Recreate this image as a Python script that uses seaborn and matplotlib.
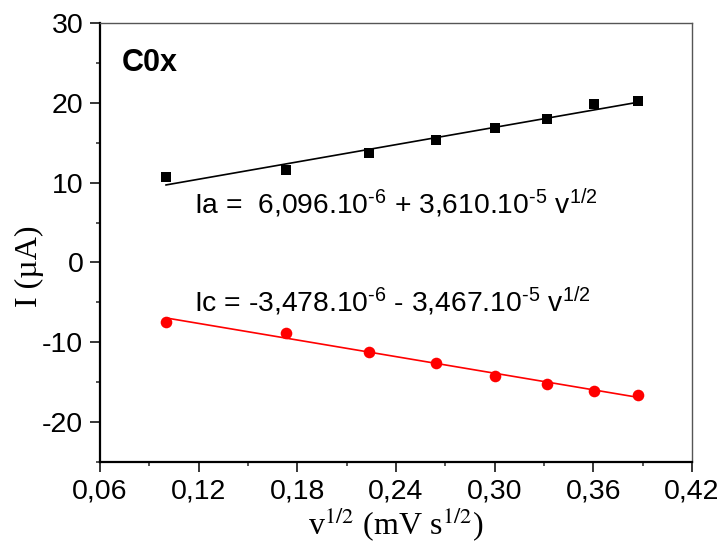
import numpy as np
import pandas as pd
import seaborn as sns
import matplotlib
matplotlib.use("Agg")
import matplotlib.pyplot as plt
from matplotlib.ticker import MultipleLocator, FuncFormatter

# ---- data ----
v_sqrt = [0.100, 0.173, 0.2236, 0.2646, 0.300, 0.3317, 0.3606, 0.3873]
i_anodic = [10.67, 11.63, 13.7, 15.3, 16.8, 18.0, 19.9, 20.2]
i_cathodic = [-7.4, -8.78, -11.17, -12.55, -14.18, -15.27, -16.06, -16.65]
fit_a = (36.10, 6.096)    # slope, intercept (µA)
fit_c = (-34.67, -3.478)
x_ticks = [0.06, 0.12, 0.18, 0.24, 0.30, 0.36, 0.42]
y_ticks = [-20, -10, 0, 10, 20, 30]

sns.set_theme(style="ticks")
plt.rcParams['font.family'] = ['Liberation Sans', 'DejaVu Sans']
plt.rcParams['text.color'] = 'black'
plt.rcParams['axes.labelcolor'] = 'black'
plt.rcParams['mathtext.fontset'] = 'custom'
plt.rcParams['mathtext.rm'] = 'Liberation Sans'
plt.rcParams['mathtext.it'] = 'Liberation Sans:italic'

df = pd.DataFrame({"v": v_sqrt, "Ia": i_anodic, "Ic": i_cathodic})

fig = plt.figure(figsize=(7.22, 5.47), dpi=100)
ax = fig.add_axes([100/722, 1-462/547, 592/722, 439/547])

xf = np.array([min(v_sqrt), max(v_sqrt)])
sns.lineplot(x=xf, y=np.polyval(fit_a, xf), color="black", lw=1.2, ax=ax)
sns.lineplot(x=xf, y=np.polyval(fit_c, xf), color="red", lw=1.2, ax=ax)
sns.scatterplot(data=df, x="v", y="Ia", marker="s", s=55, color="black",
                edgecolor="black", linewidth=0, ax=ax, zorder=3)
sns.scatterplot(data=df, x="v", y="Ic", marker="o", s=70, color="red",
                edgecolor="red", linewidth=0, ax=ax, zorder=3)

ax.set_xlim(0.06, 0.42)
ax.set_ylim(-25, 30)
ax.set_xticks(x_ticks)
ax.set_yticks(y_ticks)
ax.xaxis.set_minor_locator(MultipleLocator(0.03))
ax.yaxis.set_minor_locator(MultipleLocator(5))
ax.xaxis.set_major_formatter(FuncFormatter(lambda v, p: f"{v:.2f}".replace(".", ",")))
ax.yaxis.set_major_formatter(FuncFormatter(lambda v, p: f"{v:.0f}"))

ax.tick_params(axis="both", which="major", direction="out", length=7, width=1.1,
               labelsize=20.5, pad=5, colors="black", top=False, right=False)
ax.tick_params(axis="both", which="minor", direction="out", length=3, width=1.1,
               top=False, right=False)
for s in ["left", "bottom"]:
    ax.spines[s].set_linewidth(1.6)
    ax.spines[s].set_color("black")
for s in ["top", "right"]:
    ax.spines[s].set_linewidth(1.0)
    ax.spines[s].set_color("#555555")

ax.set_xlabel(r"v$^{\mathrm{1/2}}$ (mV s$^{\mathrm{1/2}}$)", fontsize=23,
              family="Liberation Serif", math_fontfamily="stix", labelpad=0)
ax.set_ylabel("I (µA)", fontsize=23, family="Liberation Serif")
ax.yaxis.set_label_coords(-0.094, 0.447)

ax.text(0.0735, 24.0, "C0x", fontsize=22, fontweight="bold", va="baseline")
ax.text(0.1172, 6.15, "Ia =  6,096.10$^{\\mathrm{\u2010}6}$ + 3,610.10$^{\\mathrm{\u2010}5}$ v$^{\\mathrm{1/2}}$",
        fontsize=20.3, va="baseline")
ax.text(0.1172, -6.2, "Ic = -3,478.10$^{\\mathrm{\u2010}6}$ - 3,467.10$^{\\mathrm{\u2010}5}$ v$^{\\mathrm{1/2}}$",
        fontsize=20.3, va="baseline")

fig.savefig("out.png", dpi=100)
